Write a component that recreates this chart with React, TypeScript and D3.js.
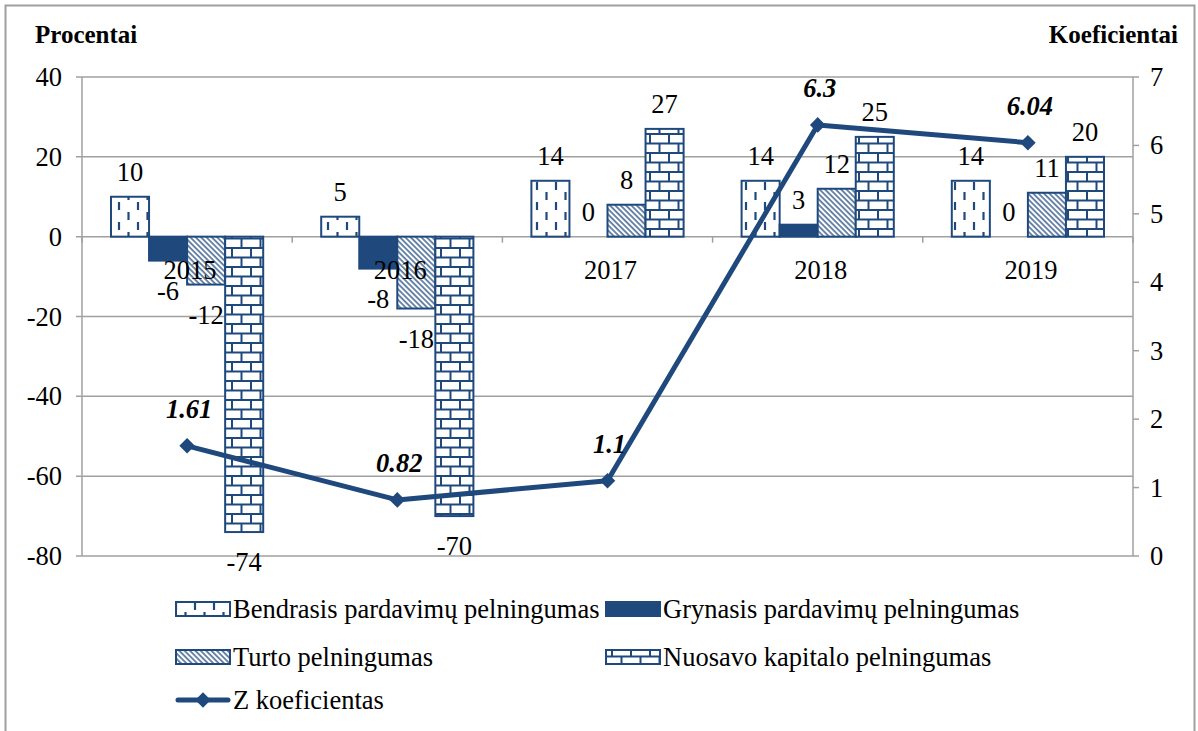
import React from "react";
import * as d3 from "d3";

const years = ["2015", "2016", "2017", "2018", "2019"];
const seriesNames = [
  "Bendrasis pardavimų pelningumas",
  "Grynasis pardavimų pelningumas",
  "Turto pelningumas",
  "Nuosavo kapitalo pelningumas",
];
const bendrasis = [10, 5, 14, 14, 14];
const grynasis = [-6, -8, 0, 3, 0];
const turto = [-12, -18, 8, 12, 11];
const nuosavo = [-74, -70, 27, 25, 20];
const zKoef = [1.61, 0.82, 1.1, 6.3, 6.04];
const lineName = "Z koeficientas";
const leftTicks = [40, 20, 0, -20, -40, -60, -80];
const rightTicks = [0, 1, 2, 3, 4, 5, 6, 7];

const W = 1198;
const H = 731;
const blue = "#1F497D";
const grid = "#a0a0a0";
const font = "Liberation Serif, DejaVu Serif, serif";
const fs = 26.5;

const fills = ["url(#pDash)", blue, "url(#pDiag)", "url(#pBrick)"];

const App = () => {
  const left = 82, right = 1133, top = 77, bottom = 556;
  const x = d3.scaleBand().domain(years).range([left, right]);
  const inner = d3.scaleBand().domain(seriesNames).range([29, x.bandwidth() - 29]);
  const y = d3.scaleLinear().domain([-80, 40]).range([bottom, top]);
  const y2 = d3.scaleLinear().domain([0, 7]).range([bottom, top]);
  const data = [bendrasis, grynasis, turto, nuosavo];

  const line = d3
    .line<number>()
    .x((d, i) => x(years[i])! + x.bandwidth() / 2)
    .y((d) => y2(d));
  const diamond = d3.symbol().type(d3.symbolSquare).size(121)();

  const legendItems = [
    { name: seriesNames[0], fill: fills[0], lx: 176, ly: 609 },
    { name: seriesNames[1], fill: fills[1], lx: 606, ly: 609 },
    { name: seriesNames[2], fill: fills[2], lx: 176, ly: 657 },
    { name: seriesNames[3], fill: fills[3], lx: 606, ly: 657 },
  ];

  const txt = { fontFamily: font };

  return (
    <svg
      width={W}
      height={H}
      style={{ position: "absolute", left: 0, top: 0, background: "#fff", fontFamily: font }}
    >
      <defs>
        <pattern id="pDash" patternUnits="userSpaceOnUse" width={19} height={20}>
          <rect width={19} height={20} fill="#fff" />
          <line x1={5} x2={5} y1={2} y2={10} stroke={blue} strokeWidth={2.2} />
          <line x1={14.5} x2={14.5} y1={12} y2={20} stroke={blue} strokeWidth={2.2} />
        </pattern>
        <pattern
          id="pDiag"
          patternUnits="userSpaceOnUse"
          width={3.8}
          height={10}
          patternTransform="rotate(-45)"
        >
          <rect width={3.8} height={10} fill="#fff" />
          <line x1={1} x2={1} y1={0} y2={10} stroke={blue} strokeWidth={1.3} />
        </pattern>
        <pattern id="pBrick" patternUnits="userSpaceOnUse" width={19} height={19}>
          <rect width={19} height={19} fill="#fff" />
          <line x1={0} x2={19} y1={1} y2={1} stroke={blue} strokeWidth={2} />
          <line x1={0} x2={19} y1={10.5} y2={10.5} stroke={blue} strokeWidth={2} />
          <line x1={4} x2={4} y1={1} y2={10.5} stroke={blue} strokeWidth={2} />
          <line x1={13.5} x2={13.5} y1={10.5} y2={19} stroke={blue} strokeWidth={2} />
        </pattern>
      </defs>

      <rect x={5.5} y={5.5} width={1189} height={760} fill="none" stroke={grid} strokeWidth={2} />

      <text style={txt} x={35} y={43} fontSize={25} fontWeight="bold">Procentai</text>
      <text style={txt} x={1178} y={43} fontSize={25} fontWeight="bold" textAnchor="end">Koeficientai</text>

      {leftTicks.map((t) => (
        <g key={"l" + t}>
          <line x1={left - 6} x2={right} y1={y(t)} y2={y(t)} stroke={grid} strokeWidth={1.5} />
          <text style={txt} x={62} y={y(t) + 9} fontSize={fs} textAnchor="end">{t}</text>
        </g>
      ))}
      {rightTicks.map((t) => (
        <g key={"r" + t}>
          <line x1={right} x2={right + 6} y1={y2(t)} y2={y2(t)} stroke={grid} strokeWidth={1.5} />
          <text style={txt} x={1150} y={y2(t) + 9} fontSize={fs}>{t}</text>
        </g>
      ))}
      <line x1={left} x2={left} y1={top} y2={bottom} stroke={grid} strokeWidth={1.5} />
      <line x1={right} x2={right} y1={top} y2={bottom} stroke={grid} strokeWidth={1.5} />
      {years.map((yr) => (
        <line key={"t" + yr} x1={x(yr)!} x2={x(yr)!} y1={y(0)} y2={y(0) + 6} stroke={grid} strokeWidth={1.5} />
      ))}
      <line x1={right} x2={right} y1={y(0)} y2={y(0) + 6} stroke={grid} strokeWidth={1.5} />

      {data.map((vals, s) =>
        vals.map((v, i) => {
          const bx = x(years[i])! + inner(seriesNames[s])!;
          return (
            <rect
              key={s + "-" + i}
              x={bx}
              y={Math.min(y(v), y(0))}
              width={inner.bandwidth()}
              height={Math.abs(y(v) - y(0))}
              fill={fills[s]}
              stroke={blue}
              strokeWidth={2}
            />
          );
        })
      )}

      {years.map((yr) => (
        <text style={txt} key={"c" + yr} x={x(yr)! + x.bandwidth() / 2 + 3} y={279} fontSize={fs} textAnchor="middle">
          {yr}
        </text>
      ))}

      {data.map((vals, s) =>
        vals.map((v, i) => {
          const cx = x(years[i])! + inner(seriesNames[s])! + inner.bandwidth() / 2;
          const ty = v >= 0 ? y(v) - 16 : y(v) + 39;
          return (
            <text style={txt} key={"v" + s + "-" + i} x={cx} y={ty} fontSize={fs} textAnchor="middle">
              {v}
            </text>
          );
        })
      )}

      <path d={line(zKoef)!} fill="none" stroke={blue} strokeWidth={5} strokeLinejoin="round" />
      {zKoef.map((v, i) => {
        const cx = x(years[i])! + x.bandwidth() / 2;
        return (
          <g key={"z" + i}>
            <path d={diamond} transform={`translate(${cx},${y2(v)}) rotate(45)`} fill={blue} />
            <text style={txt} x={cx + 2} y={y2(v) - 28} fontSize={fs} fontWeight="bold" fontStyle="italic" textAnchor="middle">
              {v}
            </text>
          </g>
        );
      })}

      {legendItems.map((it) => (
        <g key={it.name}>
          <rect x={it.lx} y={it.ly - 7} width={54} height={14} fill={it.fill} stroke={blue} strokeWidth={2} />
          <text style={txt} x={it.lx + 57} y={it.ly + 9} fontSize={fs}>{it.name}</text>
        </g>
      ))}
      <line x1={178} x2={228} y1={700} y2={700} stroke={blue} strokeWidth={5} strokeLinecap="round" />
      <path d={diamond} transform="translate(203,700) rotate(45)" fill={blue} />
      <text style={txt} x={233} y={709} fontSize={fs}>{lineName}</text>
    </svg>
  );
};

export default App;
